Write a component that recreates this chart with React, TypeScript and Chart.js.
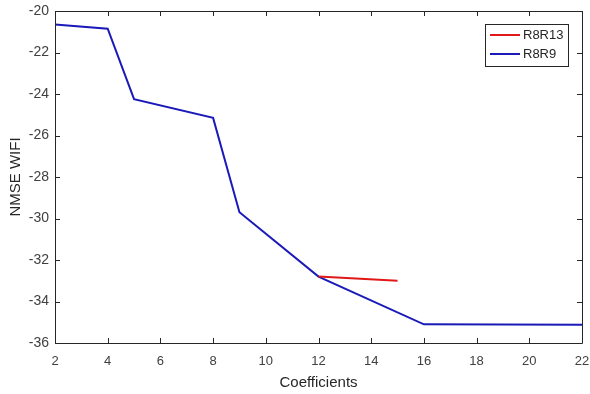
import React, { useEffect, useRef } from "react";
import { Chart, registerables } from "chart.js";

Chart.register(...registerables);

const coefficientsR8R9 = [2, 4, 5, 8, 9, 12, 16, 22];
const nmseR8R9 = [-20.65, -20.85, -24.25, -25.15, -29.7, -32.8, -35.1, -35.12];
const coefficientsR8R13 = [12, 15];
const nmseR8R13 = [-32.8, -33.0];
const seriesLabels = ["R8R13", "R8R9"];
const xTitle = "Coefficients";
const yTitle = "NMSE WIFI";

const FONT = "'Liberation Sans', Arial, sans-serif";

const boxPlugin = {
  id: "matlabBox",
  afterDatasetsDraw(chart: any) {
    const { ctx, chartArea: a, scales } = chart;
    const xs = scales.x;
    const ys = scales.y;
    ctx.save();
    ctx.strokeStyle = "#262626";
    ctx.lineWidth = 1;
    ctx.beginPath();
    ctx.rect(Math.round(a.left) + 0.5, Math.round(a.top) + 0.5, Math.round(a.right - a.left), Math.round(a.bottom - a.top));
    ctx.stroke();
    const tl = 5;
    ctx.beginPath();
    xs.ticks.forEach((t: any) => {
      const px = Math.round(xs.getPixelForValue(t.value)) + 0.5;
      ctx.moveTo(px, a.bottom);
      ctx.lineTo(px, a.bottom - tl);
      ctx.moveTo(px, a.top);
      ctx.lineTo(px, a.top + tl);
    });
    ys.ticks.forEach((t: any) => {
      const py = Math.round(ys.getPixelForValue(t.value)) + 0.5;
      ctx.moveTo(a.left, py);
      ctx.lineTo(a.left + tl, py);
      ctx.moveTo(a.right, py);
      ctx.lineTo(a.right - tl, py);
    });
    ctx.stroke();

    // legend
    const lx = 485.5, ly = 24.5, lw = 83, lh = 42;
    ctx.fillStyle = "#ffffff";
    ctx.fillRect(lx, ly, lw, lh);
    ctx.strokeStyle = "#262626";
    ctx.strokeRect(lx, ly, lw, lh);
    ctx.font = `13px ${FONT}`;
    ctx.textBaseline = "middle";
    chart.data.datasets.forEach((ds: any, i: number) => {
      const yy = ly + 10.5 + i * 19;
      ctx.strokeStyle = ds.borderColor;
      ctx.lineWidth = 2;
      ctx.beginPath();
      ctx.moveTo(lx + 4.5, yy);
      ctx.lineTo(lx + 34.5, yy);
      ctx.stroke();
      ctx.fillStyle = "#262626";
      ctx.fillText(ds.label, lx + 37.5, yy);
    });
    ctx.restore();
  },
};

export default function App() {
  const ref = useRef<HTMLCanvasElement>(null);
  useEffect(() => {
    if (!ref.current) return;
    const chart = new Chart(ref.current, {
      type: "line",
      data: {
        datasets: [
          {
            label: seriesLabels[0],
            data: coefficientsR8R13.map((x, i) => ({ x, y: nmseR8R13[i] })),
            borderColor: "#e01818",
            borderWidth: 2,
            pointRadius: 0,
            tension: 0,
          },
          {
            label: seriesLabels[1],
            data: coefficientsR8R9.map((x, i) => ({ x, y: nmseR8R9[i] })),
            borderColor: "#1a1ab8",
            borderWidth: 2,
            pointRadius: 0,
            tension: 0,
          },
        ],
      },
      options: {
        responsive: false,
        animation: false,
        devicePixelRatio: 1,
        layout: { padding: { top: 11, right: 8, left: 0, bottom: 0 } },
        plugins: { legend: { display: false }, tooltip: { enabled: false } },
        scales: {
          x: {
            type: "linear",
            min: 2,
            max: 22,
            grid: { display: false, drawTicks: false },
            border: { display: false },
            ticks: { stepSize: 2, padding: 11, color: "#404040", font: { family: FONT, size: 13 } },
            title: { display: true, text: xTitle, color: "#262626", font: { family: FONT, size: 15 }, padding: { top: 2, bottom: 2 } },
            afterFit: (s: any) => { s.height = 51; s.paddingLeft = 0; s.paddingRight = 0; },
          },
          y: {
            type: "linear",
            min: -36,
            max: -20,
            grid: { display: false, drawTicks: false },
            border: { display: false },
            ticks: { stepSize: 2, padding: 6, color: "#404040", font: { family: FONT, size: 14 } },
            title: { display: true, text: yTitle, color: "#262626", font: { family: FONT, size: 15 }, padding: { top: 6.5, bottom: 2 } },
            afterFit: (s: any) => { s.width = 55; s.paddingTop = 0; s.paddingBottom = 0; },
          },
        },
      },
      plugins: [boxPlugin],
    });
    return () => chart.destroy();
  }, []);
  return (
    <div style={{ position: "fixed", left: 0, top: 0, width: 590, height: 394, background: "#fff" }}>
      <canvas ref={ref} width={590} height={394} />
    </div>
  );
}
